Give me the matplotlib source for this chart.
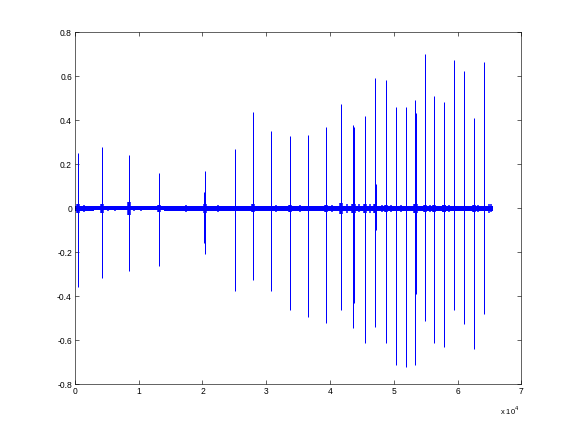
import matplotlib
matplotlib.use("Agg")
import matplotlib.pyplot as plt
import numpy as np

# spike positions (sample index) and their upper / lower extremes
spike_x = [520, 4285, 8520, 13230, 20400, 25160, 27980, 30810, 33790, 36620,
           39440, 41800, 43680, 43840, 45560, 47130, 48860, 50430, 52000,
           53410, 53520, 54980, 56390, 57810, 57960, 59380, 60950, 62510, 64080]
spike_hi = [0.25, 0.28, 0.245, 0.16, 0.17, 0.27, 0.44, 0.35, 0.33, 0.335,
            0.37, 0.475, 0.38, 0.37, 0.42, 0.595, 0.585, 0.46, 0.46,
            0.495, 0.435, 0.70, 0.51, 0.485, 0.22, 0.675, 0.625, 0.41, 0.665]
spike_lo = [-0.355, -0.315, -0.285, -0.26, -0.205, -0.375, -0.325, -0.375, -0.46, -0.495,
            -0.52, -0.46, -0.545, -0.43, -0.61, -0.54, -0.61, -0.71, -0.72,
            -0.71, -0.39, -0.51, -0.61, -0.63, -0.36, -0.46, -0.525, -0.64, -0.48]

# ringing right after each spike (half-height of the short burst)
ring_amp = [0.022, 0.02, 0.03, 0.014, 0.02, 0.012, 0.018, 0.012, 0.014, 0.012,
            0.014, 0.025, 0.02, 0.02, 0.022, 0.02, 0.014, 0.012, 0.012,
            0.02, 0.02, 0.014, 0.014, 0.016, 0.016, 0.012, 0.012, 0.014, 0.012]

# smaller secondary spikes
small_x = [20300, 47200]
small_hi = [0.075, 0.11]
small_lo = [-0.155, -0.10]

# scattered little blips on the noise floor
blip_x = [1500, 2300, 5200, 6300, 9300, 10400, 15200, 17500, 18900, 22400, 23800,
          26400, 29200, 31600, 34400, 35300, 37500, 40300, 42600, 44500, 46200,
          48100, 49600, 51200, 55700, 58600, 63200, 64900, 65300]
blip_amp = [0.015, 0.012, 0.013, 0.012, 0.013, 0.012, 0.013, 0.014, 0.012, 0.014, 0.012,
            0.013, 0.012, 0.014, 0.012, 0.014, 0.013, 0.014, 0.022, 0.018, 0.02,
            0.016, 0.014, 0.014, 0.014, 0.014, 0.014, 0.02, 0.018]

# envelope of the noise floor (sample index, half-width)
env_x = [0, 3000, 10000, 14000, 20000, 25000, 33000, 42000, 48000, 56000, 62000, 65536]
env_amp = [0.01, 0.009, 0.009, 0.01, 0.011, 0.01, 0.01, 0.011, 0.011, 0.01, 0.011, 0.011]

plt.rcParams['font.family'] = ['Liberation Sans', 'DejaVu Sans']

fig = plt.figure(figsize=(8, 6), dpi=72)
ax = fig.add_axes([0.13, 0.11, 0.775, 0.815])

blue = '#0000ff'
ax.fill_between(env_x, [-a for a in env_amp], env_amp, step='post',
                color=blue, linewidth=0)
ax.vlines(blip_x, [-a for a in blip_amp], blip_amp, color=blue, linewidth=1.5)
ax.vlines(spike_x, [-a for a in ring_amp], ring_amp, color=blue, linewidth=3.5)
ax.vlines(spike_x, spike_lo, spike_hi, color=blue, linewidth=1.0)
ax.vlines(small_x, small_lo, small_hi, color=blue, linewidth=1.0)

ax.set_xlim(0, 70000)
ax.set_ylim(-0.8, 0.8)
ax.set_xticks(np.arange(0, 70001, 10000))
ax.set_xticklabels([str(i) for i in range(8)])
yt = np.round(np.arange(-0.8, 0.81, 0.2), 1)
ax.set_yticks(yt)
ax.set_yticklabels(['%g' % v if v != 0 else '0' for v in yt])
ax.tick_params(direction='in', top=True, right=True, length=4, width=0.6,
               labelsize=8.5, pad=3)
for s in ax.spines.values():
    s.set_linewidth(0.6)

ax.text(0.995, -0.075, r'x 10$^{4}$', transform=ax.transAxes, fontsize=7.5,
        ha='right', va='center')

fig.savefig('out.png', dpi=72, facecolor='white')
